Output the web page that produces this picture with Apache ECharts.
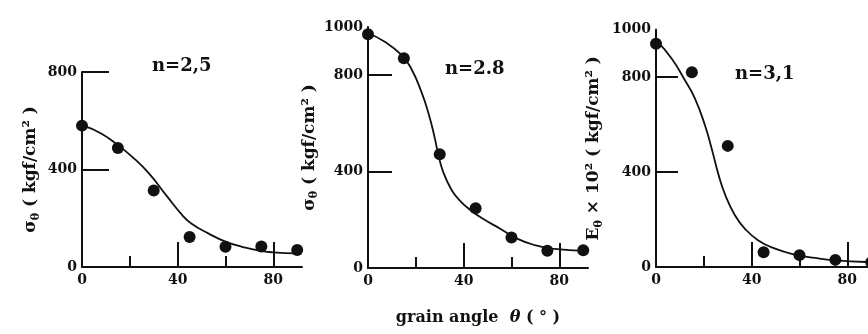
<!DOCTYPE html>
<html><head><meta charset="utf-8">
<script src="https://cdn.jsdelivr.net/npm/echarts@6/dist/echarts.min.js"></script>
<style>html,body{margin:0;padding:0;background:#fff}#c{width:868px;height:334px}</style>
</head><body><div id="c"></div>
<script>
// ---- data ----
const angles = [0, 15, 30, 45, 60, 75, 90];
const points1 = [580, 488, 314, 123, 83, 84, 70];
const points2 = [970, 870, 472, 248, 127, 72, 74];
const points3 = [940, 820, 510, 62, 50, 30, 20];

const curve1Angle = [0, 8, 15, 21, 28, 35, 42, 46, 53, 60, 67, 74, 80, 90];
const curve1 = [582, 548, 500, 452, 384, 297, 212, 176, 137, 104, 83, 67, 60, 56];
const curve2Angle = [0, 7, 14, 18, 22.3, 25.5, 27.9, 29.3, 31.4, 34.9, 38.4, 42.5, 48.1, 55.1, 62.1, 69.7, 78.1, 90];
const curve2 = [974, 939, 884, 829, 732, 635, 540, 475, 400, 325, 280, 243, 204, 164, 123, 95, 79, 71];
const curve3Angle = [0, 6.6, 12.1, 16.3, 20.5, 23.3, 26.1, 28.9, 33, 37.2, 42.8, 49.8, 58.2, 66.5, 75, 88];
const curve3 = [955, 877, 786, 709, 596, 498, 390, 305, 218, 161, 112, 77, 52, 38, 28, 21];

const xLabelValues = [0, 40, 80];
const xMajorTicks = [40, 80];
const xMinorTicks = [20, 60];
const yLabels1 = [0, 400, 800];
const yLabels23 = [0, 400, 800, 1000];
const yTickValues = [400, 800];
const yMax = [800, 1000, 1000];
const panelN = ['n=2,5', 'n=2.8', 'n=3,1'];
const yNames = [
  '{t|σ}{s|θ}{t| ( kgf/cm² )}',
  '{t|σ}{s|θ}{t| ( kgf/cm² )}',
  '{t|E}{s|θ}{t| × 10² ( kgf/cm² )}'
];
const xName = '{t|grain angle  }{i|θ}{t| ( ° )}';

// ---- layout / style ----
const FF = '"DejaVu Serif", serif';
const INK = '#111';
const grids = [
  {left: 82, top: 72, width: 220, height: 195},
  {left: 368, top: 27, width: 220, height: 241},
  {left: 656, top: 29.5, width: 220, height: 237.5}
];
const yNameGap = [40, 43, 51];
const yTickLen = [27, 24, 22];
const nPos = [[152, 57], [445, 60], [735, 65]];

const pts = [points1, points2, points3];
const curves = [[curve1Angle, curve1], [curve2Angle, curve2], [curve3Angle, curve3]];

const richY = {
  t: {fontFamily: FF, fontWeight: 'bold', fontSize: 17, color: INK, lineHeight: 22},
  s: {fontFamily: FF, fontWeight: 'bold', fontSize: 11, color: INK, lineHeight: 22, verticalAlign: 'bottom'}
};
const plain = v => String(v);

const xAxis = [], yAxis = [], series = [], graphic = [];
grids.forEach((g, i) => {
  xAxis.push({
    gridIndex: i, type: 'value', min: 0, max: 92, position: 'bottom',
    axisLine: {show: true, lineStyle: {color: INK, width: 2}},
    axisTick: {show: true, inside: true, length: 25, customValues: xMajorTicks, lineStyle: {color: INK, width: 2}},
    axisLabel: {customValues: xLabelValues, formatter: plain, margin: 6, color: INK, fontFamily: FF, fontWeight: 'bold', fontSize: 14},
    splitLine: {show: false},
    name: i === 1 ? xName : '',
    nameLocation: 'middle', nameGap: 42,
    nameTextStyle: {rich: {
      t: {fontFamily: FF, fontWeight: 'bold', fontSize: 16, color: INK},
      i: {fontFamily: FF, fontWeight: 'bold', fontStyle: 'italic', fontSize: 16, color: INK}
    }}
  });
  xAxis.push({
    gridIndex: i, type: 'value', min: 0, max: 92, position: 'bottom',
    axisLine: {show: false},
    axisTick: {show: true, inside: true, length: 11, customValues: xMinorTicks, lineStyle: {color: INK, width: 2}},
    axisLabel: {show: false},
    splitLine: {show: false}
  });
  yAxis.push({
    gridIndex: i, type: 'value', min: 0, max: yMax[i],
    axisLine: {show: true, lineStyle: {color: INK, width: 2}},
    axisTick: {show: true, inside: true, length: yTickLen[i], customValues: yTickValues, lineStyle: {color: INK, width: 2}},
    axisLabel: {customValues: i === 0 ? yLabels1 : yLabels23, formatter: plain, margin: 5, color: INK, fontFamily: FF, fontWeight: 'bold', fontSize: 14},
    splitLine: {show: false},
    name: yNames[i], nameLocation: 'middle', nameGap: yNameGap[i],
    nameTextStyle: {rich: richY}
  });
  series.push({
    type: 'line', xAxisIndex: 2 * i, yAxisIndex: i,
    data: curves[i][0].map((a, k) => [a, curves[i][1][k]]),
    smooth: 0.5, showSymbol: false, symbol: 'none',
    lineStyle: {color: INK, width: 1.8}, z: 2, silent: true
  });
  series.push({
    type: 'scatter', xAxisIndex: 2 * i, yAxisIndex: i,
    data: angles.map((a, k) => [a, pts[i][k]]),
    symbol: 'circle', symbolSize: 12, itemStyle: {color: INK, opacity: 1}, z: 3
  });
  graphic.push({
    type: 'text', left: nPos[i][0], top: nPos[i][1],
    style: {text: panelN[i], font: 'bold 18px ' + FF, fill: INK}
  });
});

const chart = echarts.init(document.getElementById('c'), null, {renderer: 'canvas'});
chart.setOption({
  animation: false,
  backgroundColor: '#fff',
  grid: grids.map(g => Object.assign({outerBoundsMode: 'none', containLabel: false}, g)),
  xAxis, yAxis, series, graphic
});
</script></body></html>
